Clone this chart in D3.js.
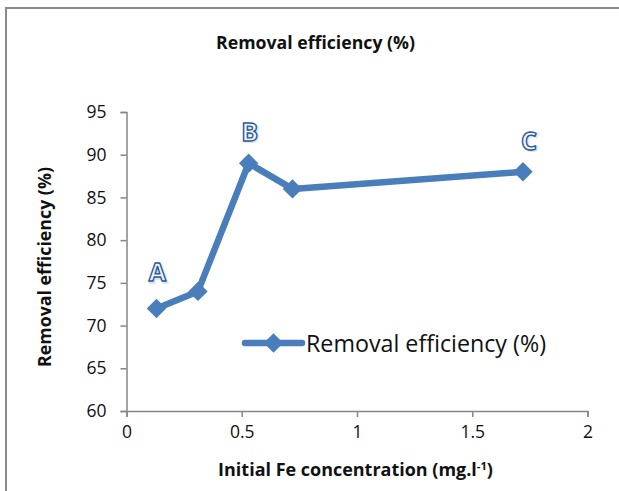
<!DOCTYPE html>
<html>
<head>
<meta charset="utf-8">
<script src="https://cdn.jsdelivr.net/npm/d3@7"></script>
<style>
  html, body { margin: 0; padding: 0; background: #fff; }
  svg { display: block; }
</style>
</head>
<body>
<svg id="chart" width="619" height="491"></svg>
<script>
// ---- data ----
const concentrations = [0.13, 0.31, 0.53, 0.72, 1.72];
const efficiency = [72, 74, 89, 86, 88];
const pointLabels = [{ index: 0, text: "A" }, { index: 2, text: "B" }, { index: 4, text: "C" }];
const xTicks = [0, 0.5, 1, 1.5, 2];
const yTicks = [60, 65, 70, 75, 80, 85, 90, 95];
const seriesName = "Removal efficiency (%)";
const chartTitle = "Removal efficiency (%)";
const xTitle = "Initial Fe concentration (mg.l";
const yTitle = "Removal efficiency (%)";

const svg = d3.select("#chart");
const blue = "#4a7ebb";
const axisGrey = "#868686";
const font = "'Open Sans', 'DejaVu Sans', sans-serif";

// outer frame
svg.append("rect").attr("x", 6).attr("y", 8).attr("width", 700).attr("height", 600)
  .attr("fill", "#fff").attr("stroke", "#8a8a8a").attr("stroke-width", 2);

const x = d3.scaleLinear().domain([0, 2]).range([126.5, 587.5]);
const y = d3.scaleLinear().domain([60, 95]).range([411, 112]);

function fitWidth(sel, w) {
  const n = sel.node();
  const cur = n.getComputedTextLength();
  const fs = parseFloat(sel.attr("font-size"));
  sel.attr("font-size", fs * w / cur);
}

// axes
const xAxis = svg.append("g").attr("transform", `translate(0,${y(60)})`)
  .call(d3.axisBottom(x).tickValues(xTicks).tickFormat(d3.format("")).tickSize(6).tickSizeOuter(6).tickPadding(8));
const yAxis = svg.append("g").attr("transform", `translate(${x(0)},0)`)
  .call(d3.axisLeft(y).tickValues(yTicks).tickSize(6).tickSizeOuter(6).tickPadding(14));
[xAxis, yAxis].forEach(g => {
  g.select(".domain").attr("stroke", axisGrey).attr("stroke-width", 1.5);
  g.selectAll(".tick line").attr("stroke", axisGrey).attr("stroke-width", 1.5);
  g.selectAll(".tick text").attr("font-family", font).attr("font-size", 17.5).attr("fill", "#111");
});
xAxis.selectAll(".tick text").attr("dy", "0.75em");

// line
const line = d3.line().x((d, i) => x(concentrations[i])).y(d => y(d));
svg.append("path").datum(efficiency).attr("d", line)
  .attr("fill", "none").attr("stroke", blue).attr("stroke-width", 6.5).attr("stroke-linejoin", "round");

const diamond = d3.symbol().type(d3.symbolDiamond2).size(240);
svg.selectAll(".pt").data(efficiency).join("path").attr("class", "pt")
  .attr("transform", (d, i) => `translate(${x(concentrations[i])},${y(d)})`)
  .attr("d", diamond).attr("fill", blue);

// point labels (outlined letters)
const lblG = svg.append("g");
pointLabels.forEach(p => {
  const px = x(concentrations[p.index]) + (p.index === 4 ? 6 : 1);
  const py = y(efficiency[p.index]) - (p.index === 0 ? 27 : 22);
  lblG.append("text").attr("x", px + 1.2).attr("y", py + 1.2).attr("text-anchor", "middle")
    .attr("font-family", font).attr("font-size", 25).attr("font-weight", "bold")
    .attr("fill", "#c9d3e0").attr("stroke", "#c9d3e0").attr("stroke-width", 2).attr("opacity", 0.6).text(p.text);
  lblG.append("text").attr("x", px).attr("y", py).attr("text-anchor", "middle")
    .attr("font-family", font).attr("font-size", 25).attr("font-weight", "bold")
    .attr("fill", "#f4f7fc").attr("stroke", "#2a5a9c").attr("stroke-width", 1.4).text(p.text);
});

// title
const t = svg.append("text").attr("x", 315.5).attr("y", 49).attr("text-anchor", "middle")
  .attr("font-family", font).attr("font-weight", "bold").attr("font-size", 14).attr("fill", "#111").text(chartTitle);
fitWidth(t, 199);

// x title
const xt = svg.append("text").attr("x", 355.5).attr("y", 476).attr("text-anchor", "middle")
  .attr("font-family", font).attr("font-weight", "bold").attr("font-size", 15).attr("fill", "#111");
xt.append("tspan").text(xTitle);
xt.append("tspan").attr("dy", -6).attr("font-size", "0.62em").text("-1");
xt.append("tspan").attr("dy", 6).text(")");
fitWidth(xt, 275);

// y title
const yt = svg.append("text").attr("transform", "translate(51,267) rotate(-90)").attr("text-anchor", "middle")
  .attr("font-family", font).attr("font-weight", "bold").attr("font-size", 15).attr("fill", "#111").text(yTitle);
fitWidth(yt, 200);

// legend
const lg = svg.append("g").attr("transform", "translate(245,343)");
lg.append("line").attr("x1", 0).attr("x2", 57).attr("y1", 0).attr("y2", 0)
  .attr("stroke", blue).attr("stroke-width", 6.5).attr("stroke-linecap", "round");
lg.append("path").attr("transform", "translate(28.5,0)").attr("d", diamond).attr("fill", blue);
const lt = lg.append("text").attr("x", 61).attr("y", 9).attr("font-family", font)
  .attr("font-size", 22).attr("fill", "#111").text(seriesName);
fitWidth(lt, 240);
</script>
</body>
</html>
